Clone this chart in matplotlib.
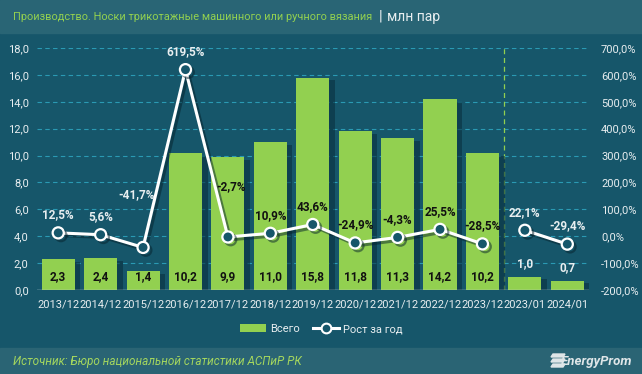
import matplotlib
matplotlib.use("Agg")
import matplotlib.pyplot as plt
import matplotlib.patheffects as pe
from matplotlib.lines import Line2D
from matplotlib.patches import Patch, Rectangle, Polygon
import numpy as np

periods = ["2013/12", "2014/12", "2015/12", "2016/12", "2017/12", "2018/12",
           "2019/12", "2020/12", "2021/12", "2022/12", "2023/12", "2023/01", "2024/01"]
total = [2.3, 2.4, 1.4, 10.2, 9.9, 11.0, 15.8, 11.8, 11.3, 14.2, 10.2, 1.0, 0.7]
growth = [12.5, 5.6, -41.7, 619.5, -2.7, 10.9, 43.6, -24.9, -4.3, 25.5, -28.5, 22.1, -29.4]
left_ticks = [0, 2, 4, 6, 8, 10, 12, 14, 16, 18]
right_ticks = [-200, -100, 0, 100, 200, 300, 400, 500, 600, 700]

title = "Производство. Носки трикотажные машинного или ручного вязания"
unit = "млн пар"
source = "Источник: Бюро национальной статистики АСПиР РК"

BG = "#16566a"
GREEN = "#92d050"
GRID = "#2a9ab3"
TXT = "#e8eef0"
W, H = 642, 374

plt.rcParams["font.family"] = ["Roboto", "DejaVu Sans"]


def fmt(v, pct=False):
    s = f"{v:.1f}".replace(".", ",")
    return s + "%" if pct else s


fig = plt.figure(figsize=(W / 100, H / 100), dpi=100, facecolor=BG)

# header and footer bands
fig.patches.append(Rectangle((0, 1 - 33 / H), 1, 33 / H, transform=fig.transFigure,
                             color="#296575", zorder=0))
fig.patches.append(Rectangle((0, 0), 1, 26 / H, transform=fig.transFigure,
                             color="#2a6474", zorder=0))

ax = fig.add_axes([37 / W, 84 / H, 551.5 / W, 242 / H])
ax.set_facecolor(BG)
ax2 = ax.twinx()

x = np.arange(len(periods))
ax.bar(x, total, width=0.78, color=GREEN, zorder=2,
       path_effects=[pe.SimplePatchShadow(offset=(4, -2), shadow_rgbFace="#0a3140", alpha=0.6),
                     pe.Normal()])

ax.set_xlim(-0.5, len(periods) - 0.5)
ax.set_ylim(0, 18)
ax.set_yticks(left_ticks)
ax.set_yticklabels([fmt(v) for v in left_ticks])
ax.set_xticks(x)
ax.set_xticklabels(periods)
ax.yaxis.grid(True, color=GRID, linestyle=(0, (4, 3)), linewidth=0.8, zorder=0)
ax.set_axisbelow(True)
for s in list(ax.spines.values()) + list(ax2.spines.values()):
    s.set_visible(False)
ax.axhline(0, color="#c8d4d8", linewidth=1, zorder=3)
ax.axvline(10.5, color=GREEN, linestyle=(0, (4, 3)), linewidth=0.9, zorder=1)
ax.tick_params(length=0, colors=TXT, labelsize=8, pad=6)
ax.tick_params(axis="x", pad=7)

# bar labels
for i, v in enumerate(total):
    if v > 1.2:
        ax.annotate(fmt(v), (i, 0), xytext=(0, 10), textcoords="offset points",
                    ha="center", va="center", fontsize=8.5, fontweight="bold", color="#111111", zorder=4)
    else:
        ax.annotate(fmt(v), (i, v), xytext=(0, 9), textcoords="offset points",
                    ha="center", va="center", fontsize=8.5, fontweight="bold", color=TXT, zorder=4)

ax2.set_ylim(-200, 700)
ax2.set_yticks(right_ticks)
ax2.set_yticklabels([fmt(v, True) for v in right_ticks])
ax2.tick_params(length=0, colors=TXT, labelsize=8, pad=9)

line_fx = [pe.SimpleLineShadow(offset=(2, -2), shadow_color="#06222c", alpha=0.5), pe.Normal()]
for seg in (slice(0, 11), slice(11, 13)):
    ax2.plot(x[seg], growth[seg], color="white", linewidth=2.2, marker="o", markersize=8,
             markerfacecolor=BG, markeredgecolor="white", markeredgewidth=1.6, zorder=5,
             path_effects=line_fx)

offsets = {2: (-5, 38), 4: (2, 36)}
for i, v in enumerate(growth):
    dx, dy = offsets.get(i, (0, 13))
    col = "#111111" if 4 <= i <= 10 else TXT
    ax2.annotate(fmt(v, True), (i, v), xytext=(dx, dy), textcoords="offset points",
                 ha="center", va="center", fontsize=8.5, fontweight="bold", color=col, zorder=6)

handles = [Patch(facecolor=GREEN, edgecolor="none"),
           Line2D([], [], color="white", linewidth=2.2, marker="o", markersize=7,
                  markerfacecolor=BG, markeredgecolor="white", markeredgewidth=1.5)]
fig.legend(handles, ["Всего", "Рост за год"], loc="center", bbox_to_anchor=(0.5, 1 - 329 / H),
           ncol=2, frameon=False, fontsize=8, labelcolor=TXT, handlelength=2.4,
           handletextpad=0.3, columnspacing=1.2)

# title: shrink to fit the width it has in the reference
t = fig.text(13 / W, 1 - 17 / H, title, color=GREEN, fontsize=11, va="center", ha="left")
renderer = fig.canvas.get_renderer()
tw = t.get_window_extent(renderer).width
t.set_fontsize(min(11.5, 11 * 357 / tw))
tx = t.get_window_extent(renderer).x1
fig.text((tx + 6) / W, 1 - 17 / H, "|", color=TXT, fontsize=11, va="center", ha="left")
fig.text((tx + 15) / W, 1 - 17 / H, unit, color=TXT, fontsize=10, va="center", ha="left")

fig.text(13 / W, 1 - 361 / H, source, color="#a4d65e", fontsize=8.5, style="italic",
         va="center", ha="left")
fig.text(632 / W, 1 - 361 / H, "EnergyProm", color="#dfe6e8", fontsize=9.5, style="italic",
         fontweight="bold", va="center", ha="right")
for k in range(3):
    y0 = 1 - (354 + k * 5) / H
    fig.patches.append(Polygon([(553 / W, y0), (565 / W, y0), (563 / W, y0 - 3 / H), (551 / W, y0 - 3 / H)],
                               closed=True, transform=fig.transFigure, color="#dfe6e8"))

fig.savefig("out.png", dpi=100, facecolor=BG)
